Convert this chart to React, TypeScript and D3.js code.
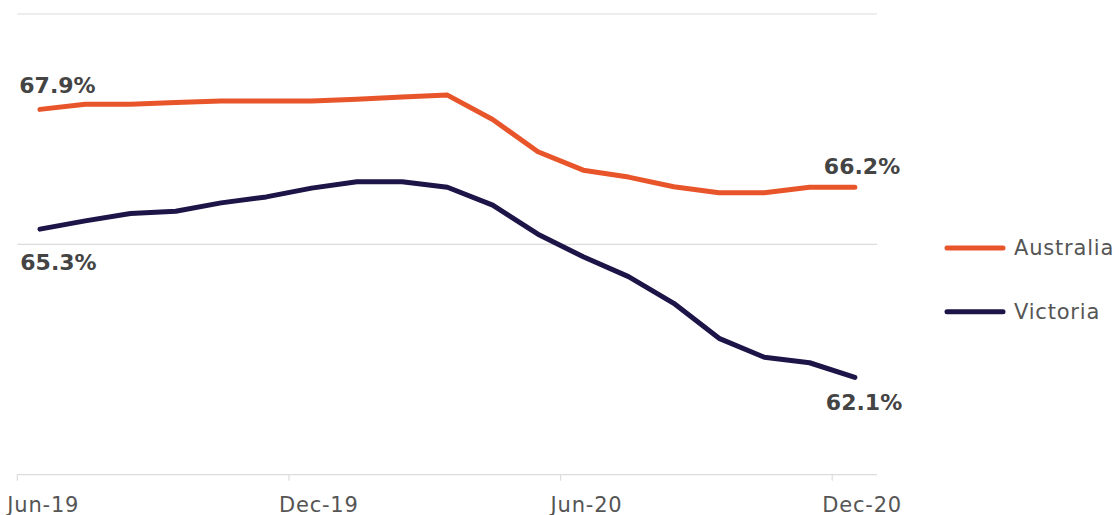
import React from "react";
import * as d3 from "d3";

const months = [
  "Jun-19", "Jul-19", "Aug-19", "Sep-19", "Oct-19", "Nov-19", "Dec-19",
  "Jan-20", "Feb-20", "Mar-20", "Apr-20", "May-20", "Jun-20",
  "Jul-20", "Aug-20", "Sep-20", "Oct-20", "Nov-20", "Dec-20",
];

const australia = [
  67.93, 68.04, 68.04, 68.08, 68.11, 68.11, 68.11, 68.15, 68.2, 68.24,
  67.71, 67.01, 66.61, 66.46, 66.25, 66.12, 66.12, 66.24, 66.24,
];

const victoria = [
  65.33, 65.51, 65.67, 65.72, 65.9, 66.03, 66.22, 66.36, 66.36, 66.24,
  65.85, 65.22, 64.73, 64.3, 63.72, 62.96, 62.55, 62.43, 62.11,
];

const tickLabels = ["Jun-19", "Dec-19", "Jun-20", "Dec-20"];
const yTicks = [60, 65, 70];

const seriesNames = ["Australia", "Victoria"];
const seriesColors = ["#E8552A", "#1D1447"];

export default function App() {
  const W = 1119;
  const H = 515;
  const x = d3.scaleBand<string>().domain(months).range([17.3, 877.5]).padding(0);
  const y = d3.scaleLinear().domain([60, 70]).range([474.7, 14]);
  const cx = (m: string) => (x(m) as number) + x.bandwidth() / 2;

  const seriesData = [australia, victoria];
  const lineGen = d3
    .line<number>()
    .x((_, i) => cx(months[i]))
    .y((d) => y(d));

  const first = 0;
  const last = months.length - 1;
  const fmt = (v: number) => v.toFixed(1) + "%";

  const axisFont = "'DejaVu Sans', sans-serif";

  return (
    <svg
      width={W}
      height={H}
      style={{ position: "absolute", left: 0, top: 0, background: "#fff" }}
    >
      {yTicks.map((t) => (
        <line
          key={t}
          x1={17.3}
          x2={877}
          y1={y(t)}
          y2={y(t)}
          stroke="#dcdcdc"
          strokeWidth={1.2}
        />
      ))}
      {tickLabels.map((m) => (
        <g key={m}>
          <line
            x1={x(m) as number}
            x2={x(m) as number}
            y1={y(60)}
            y2={y(60) + 6}
            stroke="#dcdcdc"
            strokeWidth={1.2}
          />
          <text
            x={(x(m) as number) - 10}
            y={511.5}
            fontFamily={axisFont}
            fontSize={21}
            letterSpacing={0.8}
            fill="#555"
          >
            {m}
          </text>
        </g>
      ))}

      {seriesData.map((s, k) => (
        <path
          key={seriesNames[k]}
          d={lineGen(s) || ""}
          fill="none"
          stroke={seriesColors[k]}
          strokeWidth={5}
          strokeLinecap="round"
          strokeLinejoin="round"
        />
      ))}

      {/* end labels */}
      <g fontFamily={axisFont} fontWeight="bold" fontSize={22} fill="#444">
        <text x={(x(months[first]) as number) + 2} y={y(australia[first]) - 16}>
          {fmt(australia[first])}
        </text>
        <text x={(x(months[first]) as number) + 3} y={y(victoria[first]) + 41}>
          {fmt(victoria[first])}
        </text>
        <text x={cx(months[last]) - 31} y={y(australia[last]) - 13}>
          {fmt(australia[last])}
        </text>
        <text x={cx(months[last]) - 29} y={y(victoria[last]) + 33}>
          {fmt(victoria[last])}
        </text>
      </g>

      {/* legend */}
      {seriesNames.map((n, k) => {
        const ly = 248 + k * 63.7;
        return (
          <g key={n}>
            <line
              x1={947}
              x2={1003}
              y1={ly}
              y2={ly}
              stroke={seriesColors[k]}
              strokeWidth={5}
              strokeLinecap="round"
            />
            <text
              x={1014}
              y={ly + 7}
              fontFamily={axisFont}
              fontSize={21}
              letterSpacing={0.8}
              fill="#555"
            >
              {n}
            </text>
          </g>
        );
      })}
    </svg>
  );
}
